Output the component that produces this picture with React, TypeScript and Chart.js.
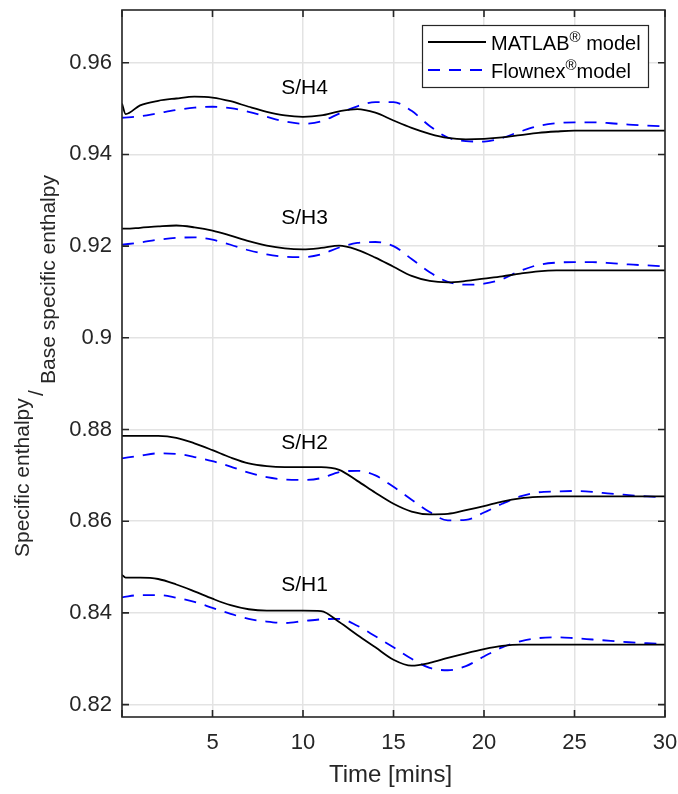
import { useEffect, useRef } from "react";
import { Chart, registerables } from "chart.js";

Chart.register(...registerables);

// Time axis (minutes) for each model's samples
const matlabTime = [0, 0.2, 1, 2, 3, 4, 5, 6, 7, 8, 9, 10, 11, 12, 13, 14, 15, 16, 17, 18, 19, 20, 21, 22, 23, 24, 25, 26, 27, 28, 29, 30];
const flownexTime = [0, 1, 2, 3, 4, 5, 6, 7, 8, 9, 10, 11, 12, 13, 14, 15, 16, 17, 18, 19, 20, 21, 22, 23, 24, 25, 26, 27, 28, 29, 30];

// Normalised specific enthalpy, MATLAB model
const sh4Matlab = [0.9511, 0.9488, 0.9507, 0.9517, 0.9522, 0.9526, 0.9524, 0.9516, 0.9504, 0.9493, 0.9485, 0.9482, 0.9485, 0.9494, 0.9499, 0.9491, 0.9474, 0.9458, 0.9445, 0.9436, 0.9433, 0.9434, 0.9437, 0.9442, 0.9447, 0.945, 0.9452, 0.9452, 0.9452, 0.9452, 0.9452, 0.9452];
const sh3Matlab = [0.9238, 0.9238, 0.924, 0.9243, 0.9245, 0.9241, 0.9234, 0.9223, 0.9211, 0.9201, 0.9195, 0.9193, 0.9196, 0.9201, 0.9192, 0.9175, 0.9155, 0.9135, 0.9124, 0.9121, 0.9124, 0.9129, 0.9134, 0.914, 0.9145, 0.9147, 0.9147, 0.9147, 0.9147, 0.9147, 0.9147, 0.9147];
const sh2Matlab = [0.8786, 0.8786, 0.8786, 0.8786, 0.8782, 0.877, 0.8755, 0.8739, 0.8726, 0.872, 0.8718, 0.8718, 0.8718, 0.8712, 0.8688, 0.8662, 0.8638, 0.8621, 0.8615, 0.8616, 0.8624, 0.8633, 0.8643, 0.865, 0.8653, 0.8654, 0.8654, 0.8654, 0.8654, 0.8654, 0.8654, 0.8654];
const sh1Matlab = [0.8483, 0.8477, 0.8477, 0.8474, 0.8462, 0.8447, 0.8431, 0.8417, 0.8408, 0.8405, 0.8405, 0.8405, 0.8404, 0.838, 0.8352, 0.8325, 0.8298, 0.8285, 0.8291, 0.8302, 0.8312, 0.8321, 0.8328, 0.8331, 0.8331, 0.8331, 0.8331, 0.8331, 0.8331, 0.8331, 0.8331, 0.8331];

// Normalised specific enthalpy, Flownex model
const sh4Flownex = [0.948, 0.9483, 0.949, 0.9497, 0.9502, 0.9504, 0.9501, 0.9493, 0.9482, 0.9472, 0.9467, 0.9472, 0.9489, 0.9505, 0.9514, 0.9514, 0.9495, 0.9462, 0.9437, 0.9429, 0.9428, 0.9436, 0.945, 0.9462, 0.9468, 0.947, 0.947, 0.9468, 0.9465, 0.9463, 0.9461];
const sh3Flownex = [0.9203, 0.9208, 0.9214, 0.9218, 0.9219, 0.9214, 0.9203, 0.9191, 0.9182, 0.9177, 0.9176, 0.9182, 0.9197, 0.9207, 0.9209, 0.92, 0.9172, 0.9143, 0.9122, 0.9116, 0.9118, 0.9128, 0.9146, 0.9159, 0.9164, 0.9165, 0.9165, 0.9163, 0.916, 0.9158, 0.9156];
const sh2Flownex = [0.8737, 0.8743, 0.8748, 0.8747, 0.874, 0.8731, 0.8719, 0.8706, 0.8696, 0.8691, 0.869, 0.8694, 0.8707, 0.871, 0.87, 0.8675, 0.8647, 0.862, 0.8602, 0.8603, 0.8619, 0.8638, 0.8654, 0.8663, 0.8665, 0.8666, 0.8664, 0.866, 0.8657, 0.8654, 0.8652];
const sh1Flownex = [0.8434, 0.8439, 0.8439, 0.8433, 0.8424, 0.8411, 0.8398, 0.8387, 0.8381, 0.8378, 0.8382, 0.8386, 0.8387, 0.8372, 0.8349, 0.8325, 0.83, 0.828, 0.8275, 0.8284, 0.8305, 0.8325, 0.8338, 0.8345, 0.8347, 0.8345, 0.8342, 0.8339, 0.8336, 0.8334, 0.8332];

// Stage labels placed next to each pair of curves
const stageNames = ["S/H1", "S/H2", "S/H3", "S/H4"];
const stageLabelY = [0.846, 0.877, 0.926, 0.9545];
const stageLabelX = 8.8;

const legendNames = ["MATLAB", "Flownex"];
const legendJoin = [" ", ""];

const xTickStep = 5;
const yTickStep = 0.02;

const FONT = "'Liberation Sans', Arial, Helvetica, sans-serif";
const AXIS_COLOR = "#262626";
const BLUE = "#0000ff";

const toPoints = (t: number[], v: number[]) => t.map((x, i) => ({ x, y: v[i] }));

const decorations = {
  id: "decorations",
  afterDraw(chart: any) {
    const { ctx, chartArea, scales } = chart;
    const { left, right, top, bottom } = chartArea;
    const xs = scales.x;
    const ys = scales.y;
    ctx.save();

    // stage labels
    ctx.fillStyle = "#000";
    ctx.font = `21px ${FONT}`;
    ctx.textAlign = "left";
    ctx.textBaseline = "middle";
    stageNames.forEach((name, i) => {
      ctx.fillText(name, xs.getPixelForValue(stageLabelX), ys.getPixelForValue(stageLabelY[i]));
    });

    // axes box
    ctx.strokeStyle = AXIS_COLOR;
    ctx.lineWidth = 1.6;
    ctx.setLineDash([]);
    ctx.strokeRect(left, top, right - left, bottom - top);

    // inward tick marks on all four sides
    const tl = 7;
    ctx.beginPath();
    xs.ticks.forEach((t: any) => {
      const px = xs.getPixelForValue(t.value);
      ctx.moveTo(px, bottom);
      ctx.lineTo(px, bottom - tl);
      ctx.moveTo(px, top);
      ctx.lineTo(px, top + tl);
    });
    ys.ticks.forEach((t: any) => {
      const py = ys.getPixelForValue(t.value);
      ctx.moveTo(left, py);
      ctx.lineTo(left + tl, py);
      ctx.moveTo(right, py);
      ctx.lineTo(right - tl, py);
    });
    ctx.stroke();

    // legend
    const bx = 422.5, by = 25.5, bw = 226, bh = 62;
    ctx.fillStyle = "#fff";
    ctx.fillRect(bx, by, bw, bh);
    ctx.lineWidth = 1.2;
    ctx.strokeStyle = AXIS_COLOR;
    ctx.strokeRect(bx, by, bw, bh);
    const rows = [42, 70];
    chart.data.datasets.slice(0, 2).forEach((ds: any, i: number) => {
      const y = rows[i];
      ctx.strokeStyle = ds.borderColor;
      ctx.lineWidth = ds.borderWidth;
      ctx.setLineDash(ds.borderDash || []);
      ctx.beginPath();
      ctx.moveTo(428, y);
      ctx.lineTo(486, y);
      ctx.stroke();
      ctx.setLineDash([]);
      ctx.fillStyle = "#000";
      ctx.textBaseline = "alphabetic";
      ctx.font = `20px ${FONT}`;
      let x = 491;
      ctx.fillText(legendNames[i], x, y + 7.5);
      x += ctx.measureText(legendNames[i]).width;
      ctx.font = `15px ${FONT}`;
      ctx.fillText("\u00AE", x, y);
      x += ctx.measureText("\u00AE").width;
      ctx.font = `20px ${FONT}`;
      ctx.fillText(legendJoin[i] + "model", x, y + 7.5);
    });

    // y-axis title: ratio written with a lowered denominator
    ctx.fillStyle = AXIS_COLOR;
    ctx.font = `21px ${FONT}`;
    ctx.textAlign = "left";
    ctx.textBaseline = "alphabetic";
    const drawRotated = (text: string, x: number, y: number) => {
      ctx.save();
      ctx.translate(x, y);
      ctx.rotate(-Math.PI / 2);
      ctx.fillText(text, 0, 0);
      ctx.restore();
    };
    drawRotated("Specific enthalpy", 29, 557);
    drawRotated("/", 43, 396);
    drawRotated("Base specific enthalpy", 55, 384);

    // x-axis title
    ctx.font = `24px ${FONT}`;
    ctx.textAlign = "center";
    ctx.fillText("Time [mins]", (left + right) / 2 - 3, 782);

    ctx.restore();
  },
};

export default function App() {
  const canvasRef = useRef<HTMLCanvasElement | null>(null);

  useEffect(() => {
    if (!canvasRef.current) return;
    const lineBase = {
      pointRadius: 0,
      borderWidth: 1.8,
      fill: false,
      cubicInterpolationMode: "monotone" as const,
    };
    const matlab = (v: number[]) => ({
      ...lineBase,
      data: toPoints(matlabTime, v),
      borderColor: "#000000",
    });
    const flownex = (v: number[]) => ({
      ...lineBase,
      data: toPoints(flownexTime, v),
      borderColor: BLUE,
      borderDash: [12, 9],
    });

    const chart = new Chart(canvasRef.current, {
      type: "line",
      data: {
        datasets: [
          matlab(sh4Matlab),
          flownex(sh4Flownex),
          matlab(sh3Matlab),
          flownex(sh3Flownex),
          matlab(sh2Matlab),
          flownex(sh2Flownex),
          matlab(sh1Matlab),
          flownex(sh1Flownex),
        ],
      },
      options: {
        animation: false,
        responsive: false,
        layout: { padding: { top: 10, right: 13, left: 0, bottom: 0 } },
        plugins: { legend: { display: false }, tooltip: { enabled: false } },
        scales: {
          x: {
            type: "linear",
            min: 0,
            max: 30,
            afterFit: (s: any) => {
              s.height = 77;
              s.paddingLeft = 0;
              s.paddingRight = 0;
            },
            border: { display: false },
            grid: { color: "#e3e3e3", lineWidth: 1.5, drawTicks: false },
            ticks: {
              stepSize: xTickStep,
              padding: 13,
              color: AXIS_COLOR,
              font: { family: FONT, size: 22 },
              maxRotation: 0,
              callback: (v: any) => (v === 0 ? "" : String(v)),
            },
          },
          y: {
            type: "linear",
            min: 0.8173,
            max: 0.9715,
            afterFit: (s: any) => {
              s.width = 122;
              s.paddingTop = 0;
              s.paddingBottom = 0;
            },
            border: { display: false },
            grid: { color: "#e3e3e3", lineWidth: 1.5, drawTicks: false },
            ticks: {
              stepSize: yTickStep,
              includeBounds: false,
              padding: 10,
              color: AXIS_COLOR,
              font: { family: FONT, size: 22 },
              callback: (v: any) => String(Number(Number(v).toFixed(2))),
            },
          },
        },
      },
      plugins: [decorations],
    });
    return () => chart.destroy();
  }, []);

  return (
    <div style={{ position: "absolute", left: 0, top: 0, width: 678, height: 794, background: "#fff" }}>
      <canvas ref={canvasRef} width={678} height={794} style={{ width: 678, height: 794, display: "block" }} />
    </div>
  );
}
